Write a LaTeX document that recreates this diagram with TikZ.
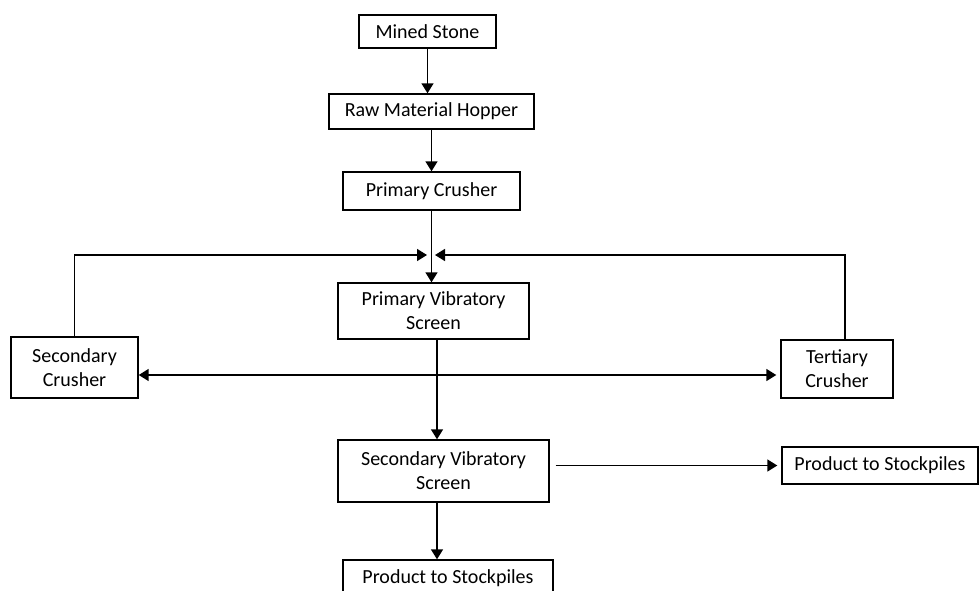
\documentclass[tikz,border=0pt]{standalone}
\usepackage{fontspec}
\setmainfont{Carlito}
\usetikzlibrary{arrows.meta}

\begin{document}
\begin{tikzpicture}[x=0.5pt,y=-0.5pt,
    box/.style={draw,line width=0.7pt,inner sep=0pt,align=center,
      font=\fontsize{10}{12}\selectfont},
    flow/.style={line width=0.75pt,-{Triangle[length=5pt,width=6pt]}}]
    \useasboundingbox (0,0) rectangle (979,590);
    % main column
    \node[box,minimum width=68.5pt,minimum height=16.5pt] (ms) at (427.5,31.5) {Mined Stone};
    \node[box,minimum width=102.5pt,minimum height=17.5pt] (rmh) at (431.5,111.5) {Raw Material Hopper};
    \node[box,minimum width=88.5pt,minimum height=19pt] (pc) at (431.5,191) {Primary Crusher};
    \node[box,minimum width=95.5pt,minimum height=28pt] (pvs) at (433.5,311) {Primary Vibratory\\Screen};
    \node[box,minimum width=105.5pt,minimum height=31pt] (svs) at (443.5,471) {Secondary Vibratory\\Screen};
    \node[box,minimum width=105pt,minimum height=18.5pt] (prdb) at (448,578.5) {Product to Stockpiles};
    % side boxes
    \node[box,minimum width=63.5pt,minimum height=30.5pt] (sc) at (74.5,367.5) {Secondary\\Crusher};
    \node[box,minimum width=56pt,minimum height=29pt] (tc) at (837,369) {Tertiary\\Crusher};
    \node[box,minimum width=98pt,minimum height=18.5pt] (prdr) at (880,465.5) {Product to Stockpiles};

    \coordinate (join) at (431,255);
    \coordinate (split) at (437,375);

    \draw[flow] (ms.south) -- (ms.south |- rmh.north);
    \draw[flow] (rmh.south) -- (rmh.south |- pc.north);
    \draw[flow] (pc.south) -- (pc.south |- pvs.north);
    \draw[flow] (sc.north) |- ([xshift=-2pt]join);
    \draw[flow] ([xshift=4pt]tc.north) |- ([xshift=2pt]join);
    \draw[flow] (pvs.south -| split) -- (split |- svs.north);
    \draw[flow] (split) -- (split -| sc.east);
    \draw[flow,shorten >=2pt] (split) -- (split -| tc.west);
    \draw[flow,shorten <=3pt,shorten >=2pt] (svs.east |- prdr.west) -- (prdr.west);
    \draw[flow] (svs.south -| split) -- (split |- prdb.north);
\end{tikzpicture}
\end{document}
